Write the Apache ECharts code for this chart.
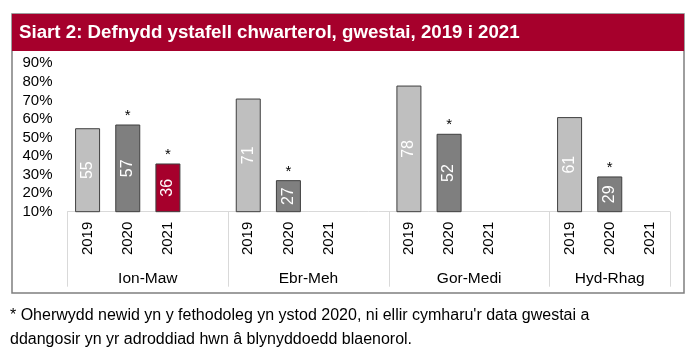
<!DOCTYPE html>
<html>
<head>
<meta charset="utf-8">
<script src="https://cdn.jsdelivr.net/npm/echarts@6/dist/echarts.min.js"></script>
<style>
html,body{margin:0;padding:0;background:#fff;}
#c{width:699px;height:359px;}
</style>
</head>
<body>
<div id="c"></div>
<script>
var quarters = ['Ion-Maw', 'Ebr-Meh', 'Gor-Medi', 'Hyd-Rhag'];
var years = ['2019', '2020', '2021'];
var v2019 = [55, 71, 78, 61];
var v2020 = [57, 27, 52, 29];
var v2021 = [36, null, null, null];
var flagged = ['2020', '2021'];
var yTicks = [10, 20, 30, 40, 50, 60, 70, 80, 90];
var titleText = 'Siart 2: Defnydd ystafell chwarterol, gwestai, 2019 i 2021';
var noteLines = [
  "* Oherwydd newid yn y fethodoleg yn ystod 2020, ni ellir cymharu'r data gwestai a",
  "ddangosir yn yr adroddiad hwn \u00e2 blynyddoedd blaenorol."
];

var colors = { '2019': '#bfbfbf', '2020': '#7f7f7f', '2021': '#a6002c' };
var byYear = { '2019': v2019, '2020': v2020, '2021': v2021 };

// Build category list: 3 years per quarter, blank spacer between quarters
var cats = [], barData = [], starData = [];
var groupStarts = [], groupCenters = [];
quarters.forEach(function (q, qi) {
  groupStarts.push(cats.length);
  years.forEach(function (y) {
    var v = byYear[y][qi];
    cats.push(y);
    barData.push(v == null ? '-' : { value: v, itemStyle: { color: colors[y] } });
    starData.push(v != null && flagged.indexOf(y) >= 0 ? v : '-');
  });
  if (qi < quarters.length - 1) {
    cats.push('');
    barData.push('-');
    starData.push('-');
  }
});
var nCats = cats.length;
quarters.forEach(function (q, qi) {
  var s = groupStarts[qi];
  var e = qi < quarters.length - 1 ? groupStarts[qi + 1] : nCats;
  groupCenters.push((s + e) / 2);
});
var sepValues = groupStarts.concat([nCats]);

var chart = echarts.init(document.getElementById('c'));
var font = 'Liberation Sans, Arial, sans-serif';
chart.setOption({
  animation: false,
  textStyle: { fontFamily: font },
  grid: { left: 67.5, right: 29, top: 63.3, bottom: 147.3, containLabel: false },
  xAxis: [
    {
      type: 'category',
      data: cats,
      axisLine: { show: true, lineStyle: { color: '#d9d9d9', width: 1 } },
      axisTick: { show: false },
      axisLabel: { rotate: 90, fontSize: 15, color: '#000', margin: 10, interval: 0, fontFamily: font }
    },
    {
      type: 'value',
      min: 0,
      max: nCats,
      position: 'bottom',
      axisLine: { show: false },
      splitLine: { show: false },
      axisTick: {
        show: true,
        customValues: sepValues,
        length: 75,
        lineStyle: { color: '#d9d9d9', width: 1 }
      },
      axisLabel: {
        show: true,
        customValues: groupCenters,
        margin: 59,
        fontSize: 15.5,
        color: '#000',
        fontFamily: font,
        formatter: function (v) {
          var i = groupCenters.indexOf(v);
          return i >= 0 ? quarters[i] : '';
        }
      }
    }
  ],
  yAxis: {
    type: 'value',
    min: yTicks[0],
    max: yTicks[yTicks.length - 1],
    interval: 10,
    axisLine: { show: false },
    axisTick: { show: false },
    splitLine: { show: false },
    axisLabel: { formatter: '{value}%', fontSize: 15, color: '#000', margin: 15, fontFamily: font }
  },
  series: [
    {
      type: 'bar',
      xAxisIndex: 0,
      data: barData,
      barWidth: 25,
      itemStyle: { borderColor: '#3f3f3f', borderWidth: 1 },
      label: {
        show: true,
        position: 'inside',
        rotate: 90,
        color: '#fff',
        fontSize: 16,
        fontFamily: font,
        formatter: function (p) { return p.value; }
      }
    },
    {
      type: 'bar',
      xAxisIndex: 0,
      data: starData,
      barWidth: 25,
      barGap: '-100%',
      silent: true,
      itemStyle: { color: 'rgba(0,0,0,0)' },
      label: {
        show: true,
        position: 'top',
        distance: 1,
        color: '#000',
        fontSize: 15,
        fontFamily: font,
        formatter: '*'
      }
    }
  ],
  graphic: [
    {
      type: 'rect',
      shape: { x: 12, y: 14, width: 672, height: 279 },
      style: { fill: 'none', stroke: '#7f7f7f', lineWidth: 1.5 },
      silent: true
    },
    {
      type: 'rect',
      shape: { x: 12, y: 14, width: 672, height: 37 },
      style: { fill: '#a6002c' },
      silent: true
    },
    {
      type: 'text',
      x: 19,
      y: 32.5,
      style: {
        text: titleText,
        fill: '#fff',
        font: 'bold 18.7px ' + font,
        verticalAlign: 'middle'
      },
      silent: true
    },
    {
      type: 'text',
      x: 10,
      y: 316,
      style: {
        text: noteLines[0],
        fill: '#000',
        font: '16px ' + font,
        verticalAlign: 'middle'
      },
      silent: true
    },
    {
      type: 'text',
      x: 10,
      y: 340,
      style: {
        text: noteLines[1],
        fill: '#000',
        font: '16px ' + font,
        verticalAlign: 'middle'
      },
      silent: true
    }
  ]
});
</script>
</body>
</html>
